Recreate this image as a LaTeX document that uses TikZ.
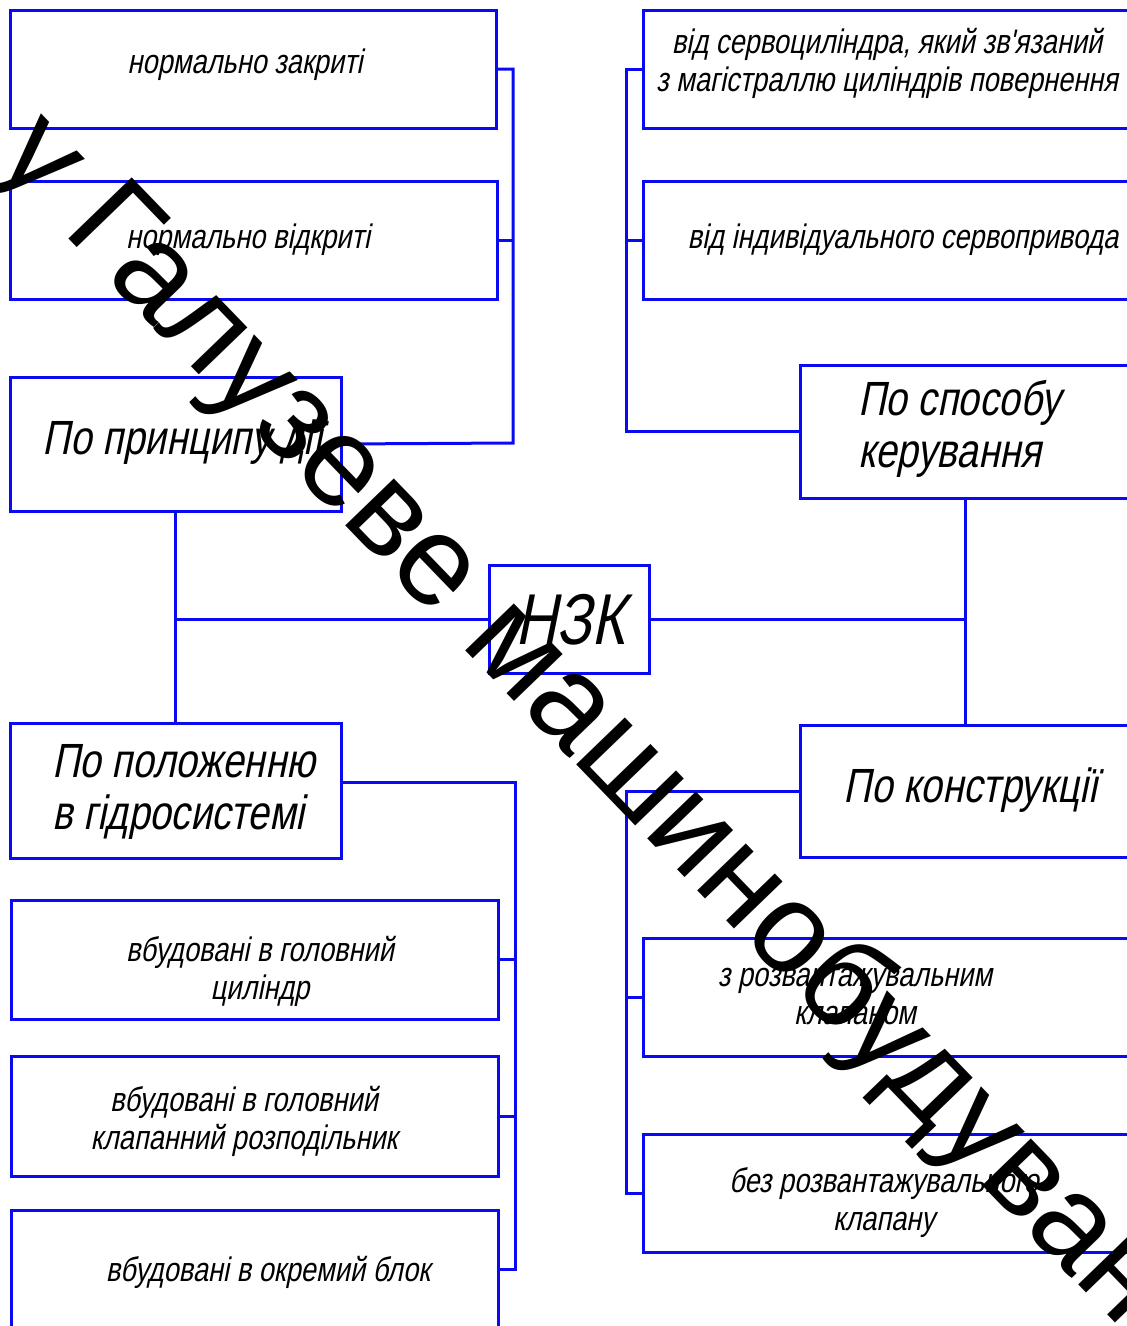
\documentclass[tikz,border=0pt]{standalone}
\usepackage{fontspec}
\setmainfont{Liberation Sans}
\newfontfamily\gost[FakeSlant=0.2,FakeStretch=0.8]{Liberation Sans}
\newfontfamily\wmfont{Liberation Sans}
\usetikzlibrary{calc}
\definecolor{lineblue}{RGB}{10,10,240}
\tikzset{
  box/.style={draw=lineblue, line width=3pt, inner sep=0pt, outer sep=0pt},
  conn/.style={draw=lineblue, line width=3pt},
  small/.style={font=\gost\fontsize{34}{38}\selectfont, align=center, inner sep=0pt},
  big/.style={font=\gost\fontsize{48}{52}\selectfont, inner sep=0pt},
  wm/.style={font=\wmfont\fontsize{128}{130}\selectfont, inner sep=0pt, text=black}
}
\newcommand{\boxat}[5]{% name, x1, y1, x2, y2
  \node[box, minimum width={#4-#2}, minimum height={#5-#3}] (#1) at ({(#2+#4)/2},{(#3+#5)/2}) {};}
\begin{document}
\begin{tikzpicture}[x=1pt,y=-1pt]
\useasboundingbox (0,0) rectangle (1127,1326);
% boxes
\boxat{A}{10}{10}{496}{128}
\boxat{B}{10}{181}{497}{299}
\boxat{C}{10}{377}{341}{511}
\boxat{N}{489}{565}{649}{673}
\boxat{D}{10}{723}{341}{858}
\boxat{K}{11}{900}{498}{1019}
\boxat{L}{11}{1056}{498}{1176}
\boxat{M}{11}{1210}{498}{1329}
\boxat{F}{643}{10}{1131}{128}
\boxat{G}{643}{181}{1131}{299}
\boxat{E}{800}{365}{1131}{498}
\boxat{H}{800}{725}{1131}{857}
\boxat{I}{643}{938}{1131}{1056}
\boxat{J}{643}{1134}{1131}{1252}
% bus coordinates
\coordinate (lt) at (513,443);
\coordinate (rx) at (626,0);
\coordinate (lx) at (515,0);
% texts
\node[small] (At) at (245,65) {нормально закриті};
\node[small] (Bt) at (248,240) {нормально відкриті};
\node[small] (Ft) at (887,63) {від сервоциліндра, який зв'язаний\\з магістраллю циліндрів повернення};
\node[small] (Gt) at (903,240) {від індивідуального сервопривода};
\node[big] (Ct) at (183,442) {По принципу дії};
\node[font=\gost\fontsize{72}{76}\selectfont, inner sep=0pt] (Nt) at (570,620) {НЗК};
\node[big, align=left, anchor=west] (Et) at (858,429) {По способу\\керування};
\node[big] (Ht) at (971,790) {По конструкції};
\node[big, align=left, anchor=west] (Dt) at (52,792) {По положенню\\в гідросистемі};
\node[small] (It) at (855,997) {з розвантажувальним\\клапаном};
\node[small] (Jt) at (884,1203) {без розвантажувального\\клапану};
\node[small] (Kt) at (260,971) {вбудовані в головний\\циліндр};
\node[small] (Lt) at (244,1121) {вбудовані в головний\\клапанний розподільник};
\node[small] (Mt) at (268,1272) {вбудовані в окремий блок};
% connectors
\draw[conn] (A.east) -| (lt) -- (C.east);
\draw[conn] (B.east) -- (B.east -| lt);
\draw[conn] (C.south) -- (D.north);
\draw[conn] (N.west) -- (N.west -| C.south);
\draw[conn] (N.east) -- (N.east -| E.south);
\draw[conn] (E.south) -- (H.north);
\draw[conn] (E.west) -| (F.west -| rx) -- (F.west);
\draw[conn] (G.west -| rx) -- (G.west);
\draw[conn] (H.west) -| (J.west -| rx) -- (J.west);
\draw[conn] (I.west -| rx) -- (I.west);
\draw[conn] ([yshift=8pt]D.east) -| (M.east -| lx) -- (M.east);
\draw[conn] (K.east -| lx) -- (K.east);
\draw[conn] (L.east -| lx) -- (L.east);
% watermark
\node[wm, rotate=-46, anchor=base west] (wmk) at (-8,160) {у Галузеве машинобудування};
\end{tikzpicture}
\end{document}
